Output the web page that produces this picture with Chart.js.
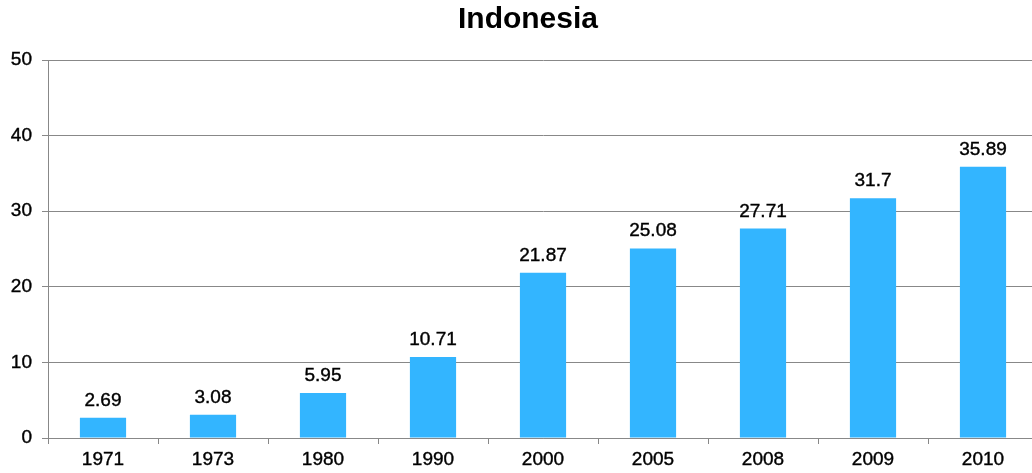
<!DOCTYPE html>
<html>
<head>
<meta charset="utf-8">
<title>Indonesia</title>
<script src="https://cdn.jsdelivr.net/npm/chart.js@4"></script>
<style>
  html, body { margin: 0; padding: 0; background: #fff; }
  #clip { width: 1032px; height: 473px; overflow: hidden; position: relative; }
  #wrap { width: 1038px; height: 473px; }
</style>
</head>
<body>
<div id="clip"><div id="wrap"><canvas id="indonesiaChart"></canvas></div></div>
<script>
const years = ['1971', '1973', '1980', '1990', '2000', '2005', '2008', '2009', '2010'];
const values = [2.69, 3.08, 5.95, 10.71, 21.87, 25.08, 27.71, 31.7, 35.89];
const yTicks = [0, 10, 20, 30, 40, 50];

const fontFamily = '"Liberation Sans", Arial, sans-serif';

// heading drawn by hand so it can sit a little right of the canvas centre
const heading = {
    id: 'heading',
    afterDraw(chart) {
        const ctx = chart.ctx;
        ctx.save();
        ctx.font = 'bold 30px ' + fontFamily;
        ctx.fillStyle = '#000';
        ctx.textAlign = 'center';
        ctx.textBaseline = 'middle';
        ctx.fillText('Indonesia', 528, 20);
        ctx.restore();
    }
};

// writes each bar's value above it
const valueLabels = {
    id: 'valueLabels',
    afterDatasetsDraw(chart) {
        const ctx = chart.ctx;
        const meta = chart.getDatasetMeta(0);
        ctx.save();
        ctx.font = '19px ' + fontFamily;
        ctx.fillStyle = '#000';
        ctx.strokeStyle = '#000';
        ctx.lineWidth = 0.4;
        ctx.textAlign = 'center';
        ctx.textBaseline = 'alphabetic';
        meta.data.forEach((bar, i) => {
            const txt = String(values[i]);
            ctx.fillText(txt, bar.x, bar.y - 12);
            ctx.strokeText(txt, bar.x, bar.y - 12);
        });
        ctx.restore();
    }
};

const tickFont = { family: fontFamily, size: 19 };

new Chart(document.getElementById('indonesiaChart'), {
    type: 'bar',
    data: {
        labels: years,
        datasets: [{
            data: values,
            backgroundColor: '#33B5FF',
            categoryPercentage: 1,
            barPercentage: 0.42
        }]
    },
    options: {
        responsive: true,
        maintainAspectRatio: false,
        animation: false,
        layout: { padding: { left: 0, right: 0, top: 60, bottom: 0 } },
        plugins: {
            legend: { display: false },
            tooltip: { enabled: false },
            title: { display: false }
        },
        scales: {
            x: {
                grid: { drawOnChartArea: false, drawTicks: true, tickLength: 6, color: '#888' },
                border: { color: '#888', width: 1 },
                ticks: { color: '#000', font: tickFont, padding: 4, maxRotation: 0, textStrokeColor: '#000', textStrokeWidth: 0.4 },
                afterFit(scale) { scale.height = 35; }
            },
            y: {
                min: 0,
                max: 50,
                afterBuildTicks(scale) { scale.ticks = yTicks.map(v => ({ value: v })); },
                grid: { color: '#888', tickLength: 6 },
                border: { color: '#888', width: 1 },
                ticks: { color: '#000', font: tickFont, padding: 10, textStrokeColor: '#000', textStrokeWidth: 0.4 },
                afterFit(scale) { scale.width = 48; }
            }
        }
    },
    plugins: [valueLabels, heading]
});
</script>
</body>
</html>
